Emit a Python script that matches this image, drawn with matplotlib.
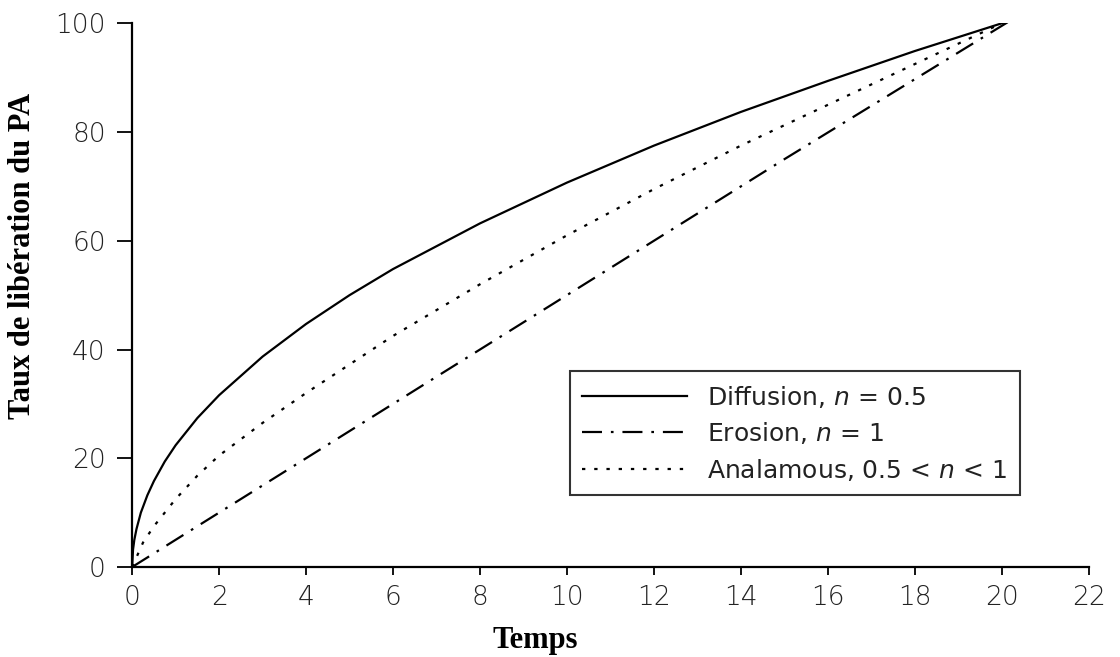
import matplotlib
matplotlib.use('Agg')
import matplotlib.pyplot as plt

# values
t_diff = [0, 0.02, 0.05, 0.1, 0.2, 0.35, 0.5, 0.75, 1, 1.5, 2, 3, 4, 5, 6, 8, 10,
          12, 14, 16, 18, 20, 20.3]
y_diff = [0, 3.2, 5, 7, 10, 13.2, 15.8, 19.4, 22.4, 27.4, 31.6, 38.7, 44.7, 50,
          54.8, 63.2, 70.7, 77.5, 83.7, 89.4, 94.9, 100, 101]

t_ero = [0, 5, 10, 15, 20.3]
y_ero = [0, 25, 50, 75, 101]

t_ano = [0, 0.25, 0.5, 1, 1.5, 2, 3, 4, 6, 8, 10, 12, 14, 16, 18, 20, 20.3]
y_ano = [0, 4.5, 7.5, 12.5, 16.8, 20.5, 26.5, 32, 42.5, 52, 61, 69.5, 77.5, 85,
         92.5, 100, 101]

x_ticks = list(range(0, 23, 2))
y_ticks = list(range(0, 101, 20))

lab_diff = r'Diffusion, $n$ = 0.5'
lab_ero = r'Erosion, $n$ = 1'
lab_ano = r'Analamous, 0.5 < $n$ < 1'

plt.rcParams['mathtext.fontset'] = 'custom'
plt.rcParams['mathtext.it'] = 'DejaVu Sans:italic'

fig = plt.figure(figsize=(11.2, 6.57), dpi=100)
ax = fig.add_axes([0.118, 0.137, 0.854, 0.8275])

ax.plot(t_diff, y_diff, color='black', lw=1.6, ls='-', label=lab_diff)
ax.plot(t_ero, y_ero, color='black', lw=1.6, dashes=(9, 4, 1.2, 4), label=lab_ero)
ax.plot(t_ano, y_ano, color='black', lw=1.6, dashes=(1.5, 4), label=lab_ano)

ax.set_xlim(0, 22)
ax.set_ylim(0, 100)
ax.set_xticks(x_ticks)
ax.set_yticks(y_ticks)
ax.spines['top'].set_visible(False)
ax.spines['right'].set_visible(False)
for s in ('left', 'bottom'):
    ax.spines[s].set_linewidth(1.6)
ax.tick_params(direction='out', width=1.3, labelsize=19, labelcolor='#222222')
ax.tick_params(axis='y', length=11, pad=8)
ax.tick_params(axis='x', length=6, pad=7)
for lbl in ax.get_xticklabels() + ax.get_yticklabels():
    lbl.set_fontweight('light')

xl = ax.set_xlabel('Temps', family='Liberation Serif', fontweight='bold',
                   fontsize=22)
xl.set_va('center')
ax.xaxis.set_label_coords(0.421, -0.136)
yl = ax.set_ylabel('Taux de libération du PA', family='Liberation Serif',
                   fontweight='bold', fontsize=22)
yl.set_va('center')
ax.yaxis.set_label_coords(-0.115, 0.572)

leg = ax.legend(loc='lower right', bbox_to_anchor=(0.928, 0.132),
                borderaxespad=0, fontsize=18, fancybox=False, frameon=True,
                handlelength=4.2, handletextpad=0.8, borderpad=0.5,
                labelspacing=0.42)
leg.get_frame().set_edgecolor('black')
leg.get_frame().set_linewidth(1.5)
for txt in leg.get_texts():
    txt.set_color('#222222')

fig.savefig('out.png', dpi=100)
